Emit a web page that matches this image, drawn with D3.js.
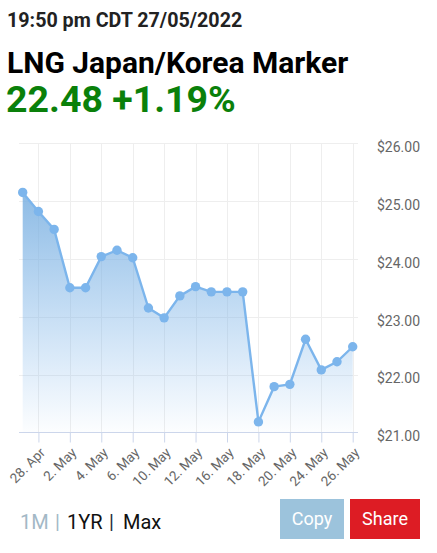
<!DOCTYPE html>
<html>
<head>
<style>
html, body {
    font-family: Roboto, Arial, sans-serif;
    width: 100%;
    height: 100%;
    margin: 0;
    padding: 0;
    overflow: hidden;
    background: #fff;
}
svg text { font-family: Roboto, Arial, sans-serif; }
</style>
</head>
<body>
<script src="https://d3js.org/d3.v7.min.js"></script>
<script>
const stamp = "19:50 pm CDT 27/05/2022";
const title = "LNG Japan/Korea Marker";
const lastPrice = "22.48";
const change = "+1.19%";

const dates = ["27. Apr", "28. Apr", "29. Apr", "2. May", "3. May", "4. May", "5. May", "6. May",
    "9. May", "10. May", "11. May", "12. May", "13. May", "16. May", "17. May", "18. May",
    "19. May", "20. May", "23. May", "24. May", "25. May", "26. May"];
const prices = [25.15, 24.82, 24.51, 23.50, 23.50, 24.04, 24.15, 24.02,
    23.15, 22.98, 23.36, 23.52, 23.43, 23.43, 23.43, 21.18,
    21.79, 21.83, 22.61, 22.08, 22.22, 22.48];
const yTicks = [21, 22, 23, 24, 25, 26];
const ranges = ["1M", "1YR", "Max"];

const [width, height] = [437, 553];
const svg = d3.select("body").append("svg")
    .attr("width", width)
    .attr("height", height);

// header
svg.append("text").attr("x", 7).attr("y", 26.7)
    .attr("font-size", 19.7).attr("font-weight", "bold").attr("fill", "#222")
    .text(stamp);
svg.append("text").attr("x", 7).attr("y", 73.3)
    .attr("font-size", 30).attr("font-weight", "bold").attr("fill", "#000")
    .text(title);
svg.append("text").attr("x", 6).attr("y", 112.3)
    .attr("font-size", 37.5).attr("font-weight", "bold").attr("fill", "#0a800a")
    .text(`${lastPrice} ${change}`);

// chart
const plot = {left: 19, right: 358, top: 143.3, bottom: 432.3};
const x = d3.scalePoint().domain(dates).range([22.7, 352.7]);
const y = d3.scaleLinear().domain([21, 26]).range([plot.bottom, plot.top]);
const tickDates = dates.filter((d, i) => i % 2 === 1);

const defs = svg.append("defs");
const grad = defs.append("linearGradient")
    .attr("id", "fill").attr("x1", 0).attr("y1", 0).attr("x2", 0).attr("y2", 1);
grad.append("stop").attr("offset", 0).attr("stop-color", "#79afe0").attr("stop-opacity", 0.85);
grad.append("stop").attr("offset", 1).attr("stop-color", "#7cb5ec").attr("stop-opacity", 0.02);

// gridlines
svg.append("g")
    .selectAll("line")
    .data(yTicks)
    .join("line")
        .attr("x1", plot.left).attr("x2", plot.right)
        .attr("y1", d => Math.round(y(d)) + 0.5).attr("y2", d => Math.round(y(d)) + 0.5)
        .attr("stroke", "#eeeeee");
svg.append("g")
    .selectAll("line")
    .data(tickDates)
    .join("line")
        .attr("x1", d => Math.round(x(d)) + 0.5).attr("x2", d => Math.round(x(d)) + 0.5)
        .attr("y1", plot.top).attr("y2", plot.bottom)
        .attr("stroke", "#eeeeee");

const area = d3.area()
    .x((d, i) => x(dates[i]))
    .y0(plot.bottom)
    .y1(d => y(d));
const line = d3.line()
    .x((d, i) => x(dates[i]))
    .y(d => y(d));

svg.append("path")
    .datum(prices)
    .attr("d", area)
    .attr("fill", "url(#fill)");

// x axis
const xAxis = svg.append("g")
    .attr("transform", `translate(0,${Math.round(plot.bottom) + 0.5})`)
    .call(d3.axisBottom(x).tickValues(tickDates).tickSize(10).tickPadding(4));
xAxis.select(".domain").attr("stroke", "#ccd6eb").attr("d", `M${plot.left},0H${plot.right}`);
xAxis.selectAll(".tick line").attr("stroke", "#ccd6eb");
xAxis.selectAll(".tick text")
    .attr("fill", "#666").attr("font-size", 13.5)
    .attr("text-anchor", "end")
    .attr("dy", 0)
    .attr("transform", "translate(7,21) rotate(-45)")
    .attr("y", 0).attr("x", 0);

// y axis labels on the right
const yAxis = svg.append("g")
    .attr("transform", `translate(377,0)`)
    .call(d3.axisRight(y).tickValues(yTicks).tickSize(0).tickFormat(d => "$" + d3.format(".2f")(d)));
yAxis.select(".domain").remove();
yAxis.selectAll(".tick text")
    .attr("fill", "#666").attr("font-size", 14).attr("x", 0).attr("dy", 0).attr("y", 8.4);

svg.append("path")
    .datum(prices)
    .attr("d", line)
    .attr("fill", "none")
    .attr("stroke", "#7cb5ec")
    .attr("stroke-width", 2.4);

svg.append("g")
    .selectAll("circle")
    .data(prices)
    .join("circle")
        .attr("cx", (d, i) => x(dates[i]))
        .attr("cy", d => y(d))
        .attr("r", 4.7)
        .attr("fill", "#7cb5ec");

// range selector
const rangeX = [20, 67, 123];
const sepX = [55, 109];
svg.append("g").selectAll("text")
    .data(ranges)
    .join("text")
        .attr("x", (d, i) => rangeX[i]).attr("y", 529)
        .attr("font-size", 20)
        .attr("fill", (d, i) => i === 0 ? "#a3b8c6" : "#111")
        .text(d => d);
svg.append("g").selectAll("text")
    .data(sepX)
    .join("text")
        .attr("x", d => d).attr("y", 529)
        .attr("font-size", 20)
        .attr("fill", (d, i) => i === 0 ? "#a3b8c6" : "#1a2b3c")
        .text("|");

// buttons
const buttons = [
    {label: "Copy", x: 280, w: 64, color: "#9cc3dc"},
    {label: "Share", x: 350, w: 70, color: "#dd1c24"}
];
const btn = svg.append("g").selectAll("g").data(buttons).join("g");
btn.append("rect")
    .attr("x", d => d.x).attr("y", 499).attr("width", d => d.w).attr("height", 40)
    .attr("fill", d => d.color);
btn.append("text")
    .attr("x", d => d.x + d.w / 2).attr("y", 525)
    .attr("text-anchor", "middle").attr("font-size", 18).attr("fill", "#fff")
    .text(d => d.label);
</script>
</body>
</html>
